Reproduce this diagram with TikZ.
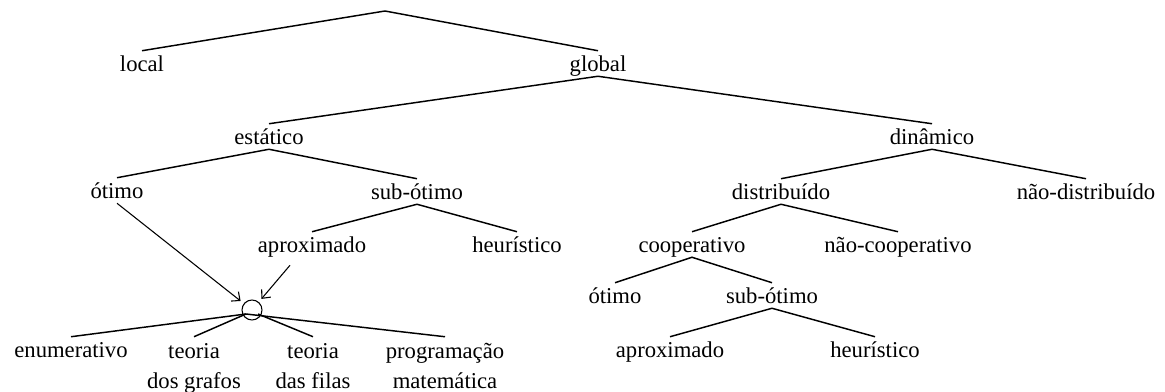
\documentclass[tikz,border=0pt]{standalone}
\usepackage{fontspec}
\setmainfont{Liberation Serif}
\usetikzlibrary{arrows.meta}

\tikzset{
  lbl/.style={anchor=base, inner sep=0pt, text height=15.75pt, text depth=3pt,
    font=\fontsize{17}{22.5}\selectfont},
  lbltwo/.style={lbl, align=center, text height=38.25pt},
  branch/.style={line width=1.1pt},
  pick/.style={line width=0.8pt, -{Straight Barb[length=5pt,width=9pt]}, shorten >=3pt},
  hub/.style={circle, draw, line width=0.8pt, minimum size=15pt, inner sep=0pt}
}

\begin{document}
\begin{tikzpicture}[x=0.75pt, y=-0.75pt]
				\useasboundingbox (0,0) rectangle (1165,392);
				\coordinate (root) at (385,11);
				\node[lbl] (local) at (142,72) {local};
				\node[lbl] (global) at (598,72) {global};
				\node[lbl] (estatico) at (269,145) {estático};
				\node[lbl] (dinamico) at (932,145) {dinâmico};
				\node[lbl] (otimoA) at (117,199) {ótimo};
				\node[lbl] (subA) at (417,200) {sub-ótimo};
				\node[lbl] (distrib) at (781,200) {distribuído};
				\node[lbl] (naodistrib) at (1086,200) {não-distribuído};
				\node[lbl] (aproxA) at (312,253) {aproximado};
				\node[lbl] (heurA) at (517,253) {heurístico};
				\node[lbl] (coop) at (692,253) {cooperativo};
				\node[lbl] (naocoop) at (898,253) {não-cooperativo};
				\node[lbl] (otimoB) at (615,304) {ótimo};
				\node[lbl] (subB) at (772,304) {sub-ótimo};
				\node[lbl] (aproxB) at (670,358) {aproximado};
				\node[lbl] (heurB) at (875,358) {heurístico};
				% metodos do caso estatico
				\node[hub] (circ) at (252,310) {};
				\coordinate (hubL) at (246,314);
				\coordinate (hubR) at (258,314);
				\node[lbl] (enum) at (71,358) {enumerativo};
				\node[lbltwo] (grafos) at (194,388) {teoria\\dos grafos};
				\node[lbltwo] (filas) at (313,388) {teoria\\das filas};
				\node[lbltwo] (prog) at (445,388) {programação\\matemática};
				\draw[branch] (local.north) -- (root) -- (global.north);
				\draw[branch] (estatico.north) -- (global.south) -- (dinamico.north);
				\draw[branch] (otimoA.north) -- (estatico.south) -- (subA.north);
				\draw[branch] (aproxA.north) -- (subA.south) -- (heurA.north);
				\draw[branch] (distrib.north) -- (dinamico.south) -- (naodistrib.north);
				\draw[branch] (coop.north) -- (distrib.south) -- (naocoop.north);
				\draw[branch] (otimoB.north) -- (coop.south) -- (subB.north);
				\draw[branch] (aproxB.north) -- (subB.south) -- (heurB.north);
				\draw[branch] (enum.north) -- (hubL) -- (prog.north);
				\draw[branch] (grafos.north) -- (hubL);
				\draw[branch] (filas.north) -- (hubR);
				\draw[pick] (otimoA.south) -- (circ);
				\draw[pick] ([xshift=-16.5pt,yshift=-6pt]aproxA.south) -- (circ);
			\end{tikzpicture}
\end{document}
